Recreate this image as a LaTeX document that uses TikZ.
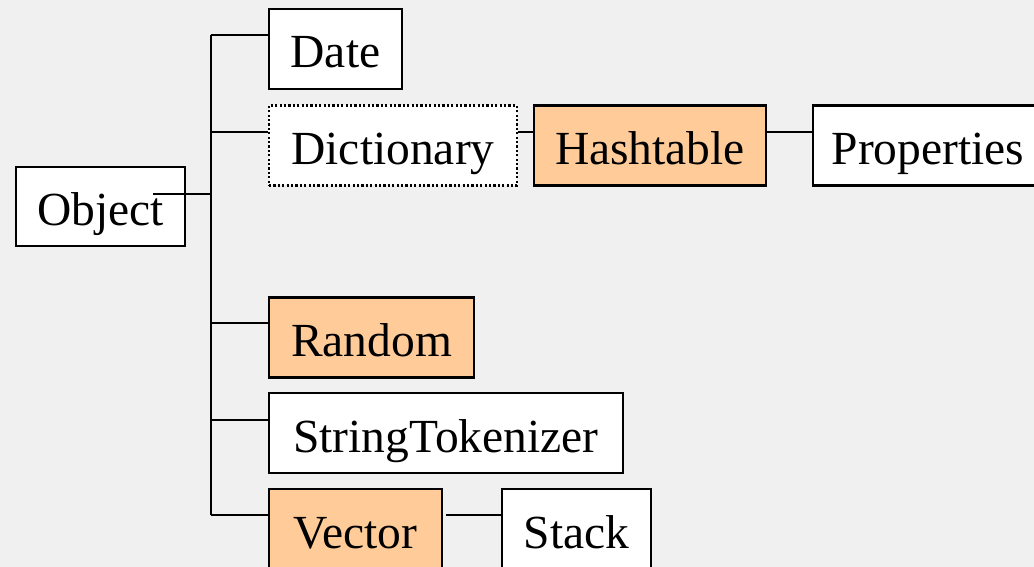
\documentclass[tikz,border=0pt]{standalone}
\usepackage{fontspec}
\setmainfont{Liberation Serif}
\usetikzlibrary{calc}
\definecolor{bggray}{RGB}{240,240,240}
\definecolor{peach}{RGB}{255,204,153}
\begin{document}
\begin{tikzpicture}[x=1pt,y=-1pt,
  cls/.style={draw=black, line width=2.8pt, fill=white, inner sep=0pt,
    minimum height=80pt, text height=38pt, text depth=0pt,
    font=\fontsize{47.5}{47.5}\selectfont},
  hot/.style={cls, fill=peach},
  abstr/.style={cls, line width=2.5pt, dash pattern=on 2.2pt off 2.2pt},
  link/.style={draw=black, line width=2.2pt}]
\fill[bggray] (0,0) rectangle (1034,567);
\useasboundingbox (0,0) rectangle (1034,567);
% nodes
\node[cls, minimum width=169pt, minimum height=79pt] (obj) at (100.5,206.5) {Object};
\node[cls, minimum width=133pt] (date) at (335.5,49) {Date};
\node[abstr, minimum width=248pt] (dict) at (393,145.5) {Dictionary};
\node[hot, minimum width=232pt] (hash) at (650,145.5) {Hashtable};
\node[cls, minimum width=230pt] (prop) at (928,145.5) {Properties};
\node[hot, minimum width=205pt] (rand) at (371.5,337.5) {Random};
\node[cls, minimum width=354pt] (strt) at (446,433) {StringTokenizer};
\node[hot, minimum width=173pt] (vec) at (355.5,529) {Vector};
\node[cls, minimum width=149pt] (stack) at (576.5,529) {Stack};
% trunk coordinates
\coordinate (ttop) at (211,35);
\coordinate (tbot) at (211,515);
\coordinate (objend) at (153,194);
\coordinate (objj) at (211,194);
% connectors
\draw[link] (ttop) -- (tbot);
\draw[link] (objend) -- (objj);
\draw[link] (ttop) -- (ttop -| date.west);
\draw[link] (211,132) -- (211,132 -| dict.west);
\draw[link] (211,132 -| dict.east) -- (211,132 -| hash.west);
\draw[link] (211,132 -| hash.east) -- (211,132 -| prop.west);
\draw[link] (211,323) -- (211,323 -| rand.west);
\draw[link] (211,420) -- (211,420 -| strt.west);
\draw[link] (tbot) -- (tbot -| vec.west);
\draw[link] ([xshift=3pt]tbot -| vec.east) -- (tbot -| stack.west);
\end{tikzpicture}
\end{document}
